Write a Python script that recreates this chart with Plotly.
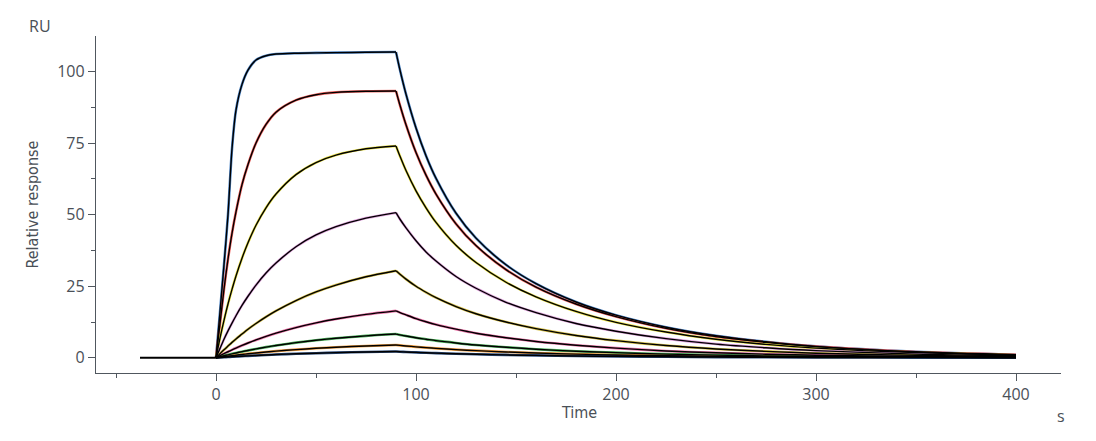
import plotly.graph_objects as go

# ---- data ----
baseline_t = [-38, 0]
baseline_v = [0, 0]

assoc_t = [0, 2, 4, 6, 8, 10, 13, 16, 20, 25, 30, 40, 50, 60, 75, 90]
dissoc_t = [90, 92, 95, 100, 105, 110, 120, 130, 145, 160, 180, 200, 225, 250, 275, 300, 350, 400]

c1_assoc = [0, 16, 32.5, 50, 73, 86.5, 95.5, 100.5, 104, 105.5, 106.1, 106.4, 106.5, 106.6, 106.7, 106.8]
c1_dissoc = [106.8, 100.5, 92.1, 80.3, 70.6, 62.7, 50.5, 41.8, 32.5, 25.9, 19.5, 14.9, 10.7, 7.7, 5.6, 4.0, 2.1, 1.1]

c2_assoc = [0, 12, 24, 34.5, 43.5, 51, 60.5, 67.5, 75, 81.5, 85.8, 90, 91.9, 92.7, 93.1, 93.2]
c2_dissoc = [93.2, 88.2, 81.4, 71.7, 63.8, 57.2, 46.8, 39.2, 30.8, 24.7, 18.8, 14.4, 10.3, 7.4, 5.4, 3.9, 2.0, 1.1]

c3_assoc = [0, 6.9, 13.1, 18.8, 23.9, 28.6, 34.8, 40.2, 46.3, 52.4, 57.2, 64.0, 68.2, 70.8, 73.0, 74.0]
c3_dissoc = [74.0, 70.4, 65.4, 58.3, 52.4, 47.3, 39.3, 33.3, 26.4, 21.3, 16.2, 12.4, 9.0, 6.5, 4.7, 3.4, 1.8, 0.9]

c4_assoc = [0, 3.3, 6.5, 9.4, 12.1, 14.7, 18.3, 21.5, 25.4, 29.6, 33.1, 38.8, 42.9, 45.8, 48.8, 50.7]
c4_dissoc = [50.7, 48.4, 45.4, 40.9, 37.0, 33.8, 28.4, 24.3, 19.4, 15.8, 12.0, 9.3, 6.7, 4.8, 3.5, 2.5, 1.3, 0.7]

c5_assoc = [0, 1.43, 2.8, 4.1, 5.4, 6.6, 8.3, 10.0, 12.0, 14.3, 16.4, 20.0, 23.0, 25.4, 28.3, 30.4]
c5_dissoc = [30.4, 29.2, 27.5, 25.0, 22.9, 21.0, 17.9, 15.4, 12.5, 10.2, 7.8, 6.0, 4.3, 3.1, 2.25, 1.6, 0.85, 0.44]

c6_assoc = [0, 0.73, 1.44, 2.12, 2.78, 3.41, 4.32, 5.18, 6.25, 7.48, 8.6, 10.56, 12.19, 13.54, 15.16, 16.4]
c6_dissoc = [16.4, 15.8, 15.0, 13.7, 12.6, 11.6, 10.0, 8.6, 7.0, 5.7, 4.4, 3.4, 2.4, 1.76, 1.27, 0.92, 0.48, 0.25]

c7_assoc = [0, 0.36, 0.71, 1.05, 1.38, 1.70, 2.15, 2.58, 3.11, 3.74, 4.30, 5.30, 6.13, 6.83, 7.66, 8.3]
c7_dissoc = [8.3, 8.0, 7.6, 7.0, 6.5, 6.0, 5.2, 4.5, 3.7, 3.0, 2.3, 1.8, 1.3, 0.93, 0.67, 0.49, 0.25, 0.13]

c8_assoc = [0, 0.2, 0.38, 0.57, 0.75, 0.92, 1.17, 1.4, 1.69, 2.03, 2.33, 2.87, 3.32, 3.70, 4.15, 4.5]
c8_dissoc = [4.5, 4.36, 4.15, 3.84, 3.56, 3.31, 2.87, 2.50, 2.04, 1.67, 1.29, 0.99, 0.72, 0.52, 0.37, 0.27, 0.14, 0.07]

c9_assoc = [0, 0.1, 0.19, 0.28, 0.37, 0.45, 0.57, 0.68, 0.82, 0.99, 1.14, 1.40, 1.62, 1.81, 2.03, 2.2]
c9_dissoc = [2.2, 2.13, 2.04, 1.89, 1.76, 1.64, 1.43, 1.24, 1.02, 0.84, 0.64, 0.49, 0.36, 0.26, 0.19, 0.13, 0.07, 0.04]

curve_colors = ["#4a82c4", "#f0605c", "#ece44a", "#e0a0dc", "#d8c24a",
                "#ec72a8", "#4cb05a", "#ec9a3c", "#2a4a7a"]

assoc_sets = [c1_assoc, c2_assoc, c3_assoc, c4_assoc, c5_assoc, c6_assoc, c7_assoc, c8_assoc, c9_assoc]
dissoc_sets = [c1_dissoc, c2_dissoc, c3_dissoc, c4_dissoc, c5_dissoc, c6_dissoc, c7_dissoc, c8_dissoc, c9_dissoc]

x_ticks = [0, 100, 200, 300, 400]
y_ticks = [0, 25, 50, 75, 100]

TEXT = "#4a5057"
AXIS = "#50575e"

fig = go.Figure()

# measured (coloured) curves underneath
for col, a, d in zip(curve_colors, assoc_sets, dissoc_sets):
    for tt, vv in ((assoc_t, a), (dissoc_t, d)):
        fig.add_trace(go.Scatter(x=tt, y=vv, mode="lines",
                                 line=dict(color=col, width=2.6, shape="spline", smoothing=0.8),
                                 hoverinfo="skip", showlegend=False))

# fitted (black) curves on top
for a, d in zip(assoc_sets, dissoc_sets):
    for tt, vv in ((assoc_t, a), (dissoc_t, d)):
        fig.add_trace(go.Scatter(x=tt, y=vv, mode="lines",
                                 line=dict(color="#000000", width=1.4, shape="spline", smoothing=0.8),
                                 hoverinfo="skip", showlegend=False))

fig.add_trace(go.Scatter(x=baseline_t, y=baseline_v, mode="lines",
                         line=dict(color="#000000", width=2.0),
                         hoverinfo="skip", showlegend=False))

tickfont = dict(family="Open Sans, Noto Sans, sans-serif", size=16, color=TEXT)

fig.update_layout(
    width=1096, height=441,
    margin=dict(l=96, r=35, t=36, b=68),
    paper_bgcolor="white", plot_bgcolor="white",
    showlegend=False,
    xaxis=dict(range=[-60, 422.5], tickvals=x_ticks, ticks="outside", ticklen=7,
               tickwidth=1.3, tickcolor=AXIS, showline=True, linecolor=AXIS, linewidth=1.3,
               showgrid=False, zeroline=False, tickfont=tickfont,
               minor=dict(dtick=50, tick0=0, ticks="outside", ticklen=4, tickwidth=1.3,
                          tickcolor=AXIS, showgrid=False)),
    yaxis=dict(range=[-5.3, 112.4], tickvals=y_ticks, ticks="outside", ticklen=7,
               tickwidth=1.3, tickcolor=AXIS, showline=True, linecolor=AXIS, linewidth=1.3,
               showgrid=False, zeroline=False, tickfont=tickfont,
               minor=dict(dtick=12.5, tick0=0, ticks="outside", ticklen=4, tickwidth=1.3,
                          tickcolor=AXIS, showgrid=False)),
    annotations=[
        dict(text="RU", xref="paper", yref="paper", x=-0.058, y=1.03, showarrow=False,
             xanchor="center", yanchor="middle",
             font=dict(family="Open Sans, Noto Sans, sans-serif", size=16, color=TEXT)),
        dict(text="s", xref="paper", yref="paper", x=1.0, y=-0.128, showarrow=False,
             xanchor="center", yanchor="middle",
             font=dict(family="Open Sans, Noto Sans, sans-serif", size=16, color=TEXT)),
        dict(text="Time", xref="paper", yref="paper", x=0.5, y=-0.116, showarrow=False,
             xanchor="center", yanchor="middle",
             font=dict(family="Liberation Sans Narrow, DejaVu Sans Condensed, sans-serif", size=16, color=TEXT)),
        dict(text="Relative response", xref="paper", yref="paper", x=-0.0663, y=0.5,
             showarrow=False, textangle=-90, xanchor="center", yanchor="middle",
             font=dict(family="Liberation Sans Narrow, DejaVu Sans Condensed, sans-serif", size=16, color=TEXT)),
    ],
)

fig.write_html("out.html")
